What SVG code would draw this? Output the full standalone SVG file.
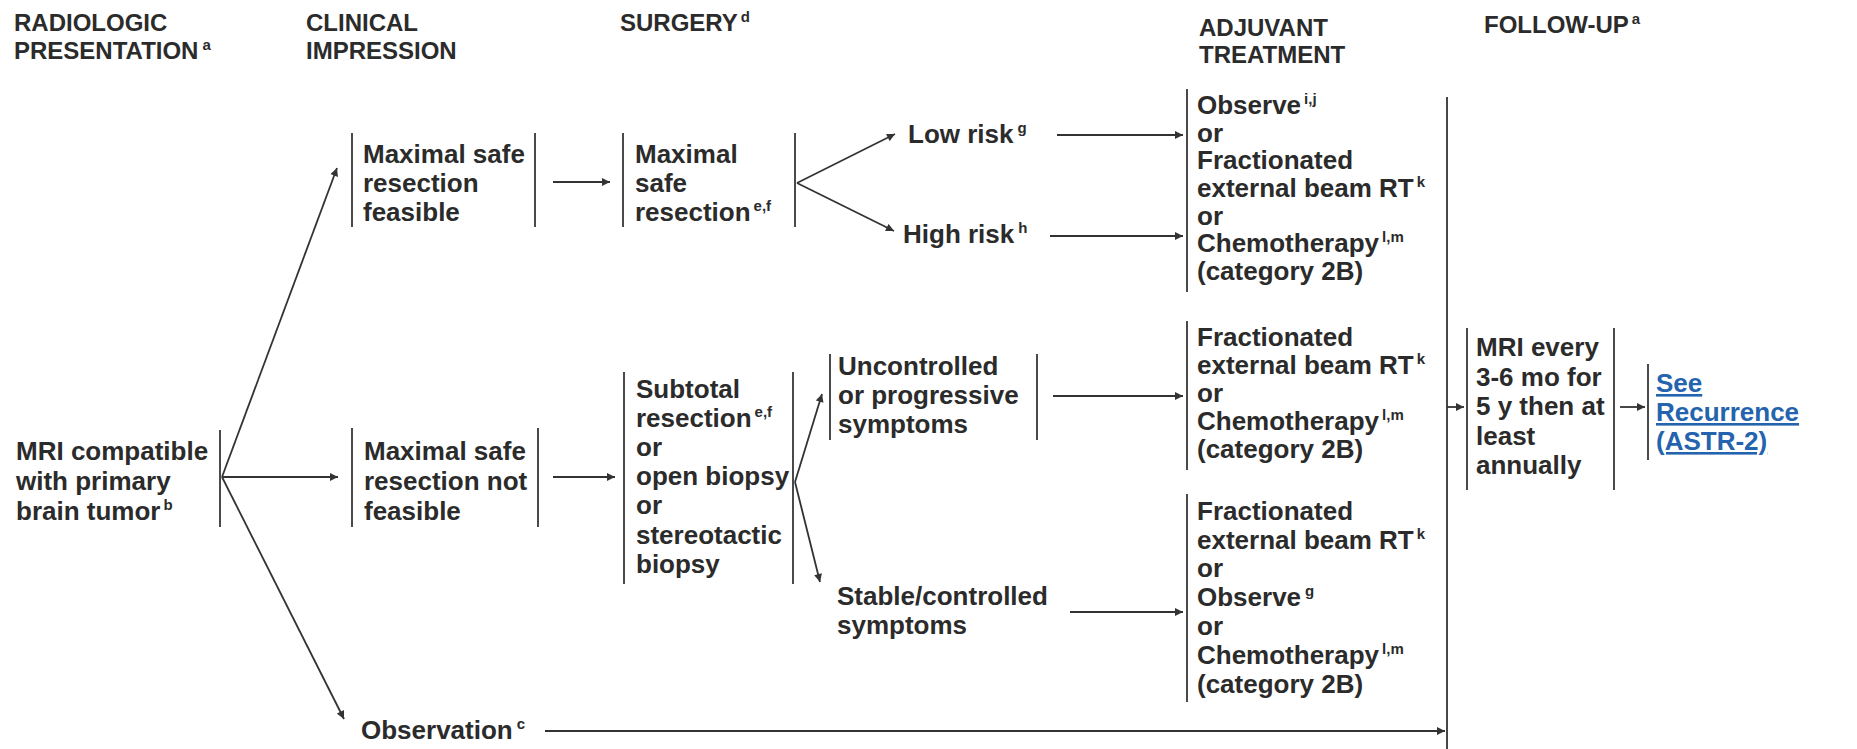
<svg xmlns="http://www.w3.org/2000/svg" width="1857" height="749" viewBox="0 0 1857 749">
<defs>
<style>
.h{font-family:"Liberation Sans",Arial,sans-serif;font-weight:bold;font-size:24px;fill:#2b2b2b}
.t{font-family:"Liberation Sans",Arial,sans-serif;font-weight:bold;font-size:26px;fill:#2b2b2b}
.s{font-size:15px}
.lnk{fill:#2463ad;text-decoration:underline}
.bar{stroke:#4a4a4a;stroke-width:2;fill:none}
.c{stroke:#333;stroke-width:1.8;fill:none;marker-end:url(#ah)}
.cl{stroke:#333;stroke-width:1.8;fill:none}
</style>
<marker id="ah" viewBox="0 0 10 10" refX="10" refY="5" markerWidth="10" markerHeight="8" orient="auto" markerUnits="userSpaceOnUse">
<path d="M0,0 L10,5 L0,10 z" fill="#333"/>
</marker>
</defs>
<rect width="1857" height="749" fill="#fff"/>

<g id="h-radiologic"><text class="h" x="14" y="31">RADIOLOGIC</text><text class="h" x="14" y="59">PRESENTATION<tspan class="s" dx="4" dy="-9">a</tspan></text></g>
<g id="h-clinical"><text class="h" x="306" y="31">CLINICAL</text><text class="h" x="306" y="59">IMPRESSION</text></g>
<g id="h-surgery"><text class="h" x="620" y="31">SURGERY<tspan class="s" dx="3" dy="-9">d</tspan></text></g>
<g id="h-adjuvant"><text class="h" x="1199" y="36">ADJUVANT</text><text class="h" x="1199" y="63">TREATMENT</text></g>
<g id="h-followup"><text class="h" x="1484" y="33">FOLLOW-UP<tspan class="s" dx="3" dy="-9">a</tspan></text></g>

<g id="n-mri">
<line class="bar" x1="220" y1="430" x2="220" y2="527"/>
<text class="t" x="16" y="460">MRI compatible</text>
<text class="t" x="16" y="490">with primary</text>
<text class="t" x="16" y="520">brain tumor<tspan class="s" dx="3" dy="-10">b</tspan></text>
</g>

<g id="n-feasible">
<line class="bar" x1="352" y1="133" x2="352" y2="227"/>
<line class="bar" x1="535" y1="133" x2="535" y2="227"/>
<text class="t" x="363" y="163">Maximal safe</text>
<text class="t" x="363" y="192">resection</text>
<text class="t" x="363" y="221">feasible</text>
</g>

<g id="n-notfeasible">
<line class="bar" x1="352" y1="428" x2="352" y2="527"/>
<line class="bar" x1="538" y1="428" x2="538" y2="527"/>
<text class="t" x="364" y="460">Maximal safe</text>
<text class="t" x="364" y="490">resection not</text>
<text class="t" x="364" y="520">feasible</text>
</g>

<g id="n-observation">
<text class="t" x="361" y="739">Observation<tspan class="s" dx="4" dy="-10">c</tspan></text>
</g>

<g id="n-maxsafe">
<line class="bar" x1="623" y1="133" x2="623" y2="227"/>
<line class="bar" x1="795" y1="133" x2="795" y2="227"/>
<text class="t" x="635" y="163">Maximal</text>
<text class="t" x="635" y="192">safe</text>
<text class="t" x="635" y="221">resection<tspan class="s" dx="3" dy="-10">e,f</tspan></text>
</g>

<g id="n-subtotal">
<line class="bar" x1="624" y1="372" x2="624" y2="584"/>
<line class="bar" x1="793" y1="372" x2="793" y2="584"/>
<text class="t" x="636" y="398">Subtotal</text>
<text class="t" x="636" y="427">resection<tspan class="s" dx="3" dy="-10">e,f</tspan></text>
<text class="t" x="636" y="456">or</text>
<text class="t" x="636" y="485">open biopsy</text>
<text class="t" x="636" y="514">or</text>
<text class="t" x="636" y="544">stereotactic</text>
<text class="t" x="636" y="573">biopsy</text>
</g>

<g id="n-lowrisk"><text class="t" x="908" y="143">Low risk<tspan class="s" dx="4" dy="-10">g</tspan></text></g>
<g id="n-highrisk"><text class="t" x="903" y="243">High risk<tspan class="s" dx="4" dy="-10">h</tspan></text></g>

<g id="n-uncontrolled">
<line class="bar" x1="830" y1="354" x2="830" y2="440"/>
<line class="bar" x1="1037" y1="354" x2="1037" y2="440"/>
<text class="t" x="838" y="375">Uncontrolled</text>
<text class="t" x="838" y="404">or progressive</text>
<text class="t" x="838" y="433">symptoms</text>
</g>

<g id="n-stable">
<text class="t" x="837" y="605">Stable/controlled</text>
<text class="t" x="837" y="634">symptoms</text>
</g>

<g id="n-adj1">
<line class="bar" x1="1187" y1="89" x2="1187" y2="292"/>
<text class="t" x="1197" y="114">Observe<tspan class="s" dx="3" dy="-10">i,j</tspan></text>
<text class="t" x="1197" y="142">or</text>
<text class="t" x="1197" y="169">Fractionated</text>
<text class="t" x="1197" y="197">external beam RT<tspan class="s" dx="3" dy="-10">k</tspan></text>
<text class="t" x="1197" y="225">or</text>
<text class="t" x="1197" y="252">Chemotherapy<tspan class="s" dx="3" dy="-10">l,m</tspan></text>
<text class="t" x="1197" y="280">(category 2B)</text>
</g>

<g id="n-adj2">
<line class="bar" x1="1187" y1="321" x2="1187" y2="470"/>
<text class="t" x="1197" y="346">Fractionated</text>
<text class="t" x="1197" y="374">external beam RT<tspan class="s" dx="3" dy="-10">k</tspan></text>
<text class="t" x="1197" y="402">or</text>
<text class="t" x="1197" y="430">Chemotherapy<tspan class="s" dx="3" dy="-10">l,m</tspan></text>
<text class="t" x="1197" y="458">(category 2B)</text>
</g>

<g id="n-adj3">
<line class="bar" x1="1187" y1="494" x2="1187" y2="702"/>
<text class="t" x="1197" y="520">Fractionated</text>
<text class="t" x="1197" y="549">external beam RT<tspan class="s" dx="3" dy="-10">k</tspan></text>
<text class="t" x="1197" y="577">or</text>
<text class="t" x="1197" y="606">Observe<tspan class="s" dx="4" dy="-10">g</tspan></text>
<text class="t" x="1197" y="635">or</text>
<text class="t" x="1197" y="664">Chemotherapy<tspan class="s" dx="3" dy="-10">l,m</tspan></text>
<text class="t" x="1197" y="693">(category 2B)</text>
</g>

<g id="n-followup">
<line class="bar" x1="1467" y1="328" x2="1467" y2="490"/>
<line class="bar" x1="1614" y1="328" x2="1614" y2="490"/>
<text class="t" x="1476" y="356">MRI every</text>
<text class="t" x="1476" y="386">3-6 mo for</text>
<text class="t" x="1476" y="415">5 y then at</text>
<text class="t" x="1476" y="445">least</text>
<text class="t" x="1476" y="474">annually</text>
</g>

<g id="n-see">
<line class="bar" x1="1648" y1="364" x2="1648" y2="460"/>
<text class="t lnk" x="1656" y="392">See</text>
<text class="t lnk" x="1656" y="421">Recurrence</text>
<text class="t lnk" x="1656" y="450">(ASTR-2)</text>
</g>

<g id="connectors">
<line class="c" x1="222" y1="477" x2="337" y2="168"/>
<line class="c" x1="222" y1="477" x2="338" y2="477"/>
<line class="c" x1="222" y1="477" x2="344" y2="719"/>
<line class="c" x1="553" y1="182" x2="610" y2="182"/>
<line class="c" x1="553" y1="477" x2="615" y2="477"/>
<line class="c" x1="797" y1="183" x2="895" y2="134"/>
<line class="c" x1="797" y1="183" x2="894" y2="231"/>
<line class="c" x1="1057" y1="135" x2="1183" y2="135"/>
<line class="c" x1="1050" y1="236" x2="1183" y2="236"/>
<line class="c" x1="795" y1="482" x2="822" y2="394"/>
<line class="c" x1="795" y1="482" x2="820" y2="582"/>
<line class="c" x1="1053" y1="396" x2="1183" y2="396"/>
<line class="c" x1="1070" y1="612" x2="1183" y2="612"/>
<line class="c" x1="545" y1="731" x2="1445" y2="731"/>
<line class="cl" x1="1447" y1="97" x2="1447" y2="749"/>
<line class="c" x1="1447" y1="407" x2="1464" y2="407"/>
<line class="c" x1="1620" y1="407" x2="1645" y2="407"/>
</g>
</svg>
